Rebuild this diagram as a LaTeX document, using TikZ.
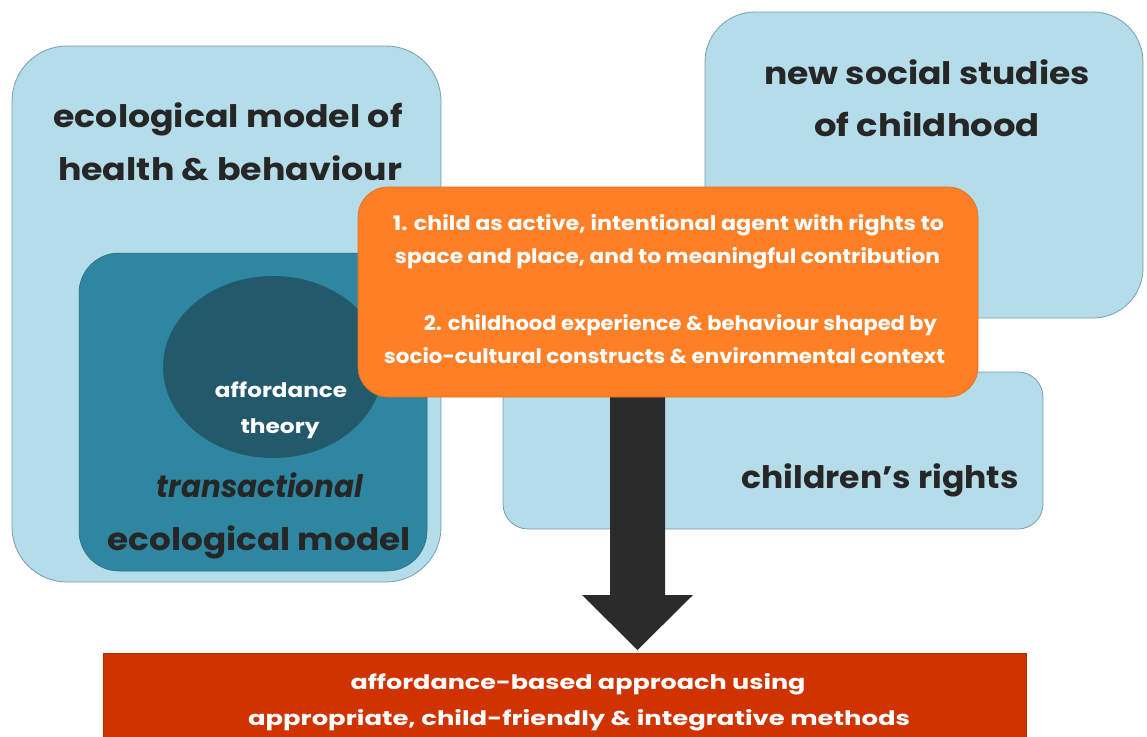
\documentclass[tikz,border=0pt]{standalone}
\usepackage{fontspec}
\setmainfont{Poppins}
\usepackage{graphicx}
\definecolor{lblue}{HTML}{B4DCE9}
\definecolor{boxline}{HTML}{7A9DB0}
\definecolor{tealbox}{HTML}{2F86A0}
\definecolor{dteal}{HTML}{225A6C}
\definecolor{orangebox}{HTML}{FF7F27}
\definecolor{orangeline}{HTML}{E0701E}
\definecolor{redbox}{HTML}{D03200}
\definecolor{darktext}{HTML}{262626}
\definecolor{arrowc}{HTML}{2B2B2B}
\newcommand\fitw[2]{\resizebox{#1pt}{\height}{#2}}
\begin{document}
\begin{tikzpicture}[x=1pt,y=-1pt,
  lbox/.style={draw=boxline, fill=lblue, line width=0.8pt, inner sep=0pt},
  ttl/.style={anchor=base, text=darktext, inner sep=0pt, font=\fontsize{31}{31}\selectfont\bfseries},
  wsmall/.style={anchor=base, text=white, inner sep=0pt, font=\fontsize{20}{20}\selectfont\bfseries}
]
\clip (0,0) rectangle (1147,736);
\useasboundingbox (0,0) rectangle (1147,736);
% left big box
\node[lbox, rounded corners=55pt, minimum width=429pt, minimum height=536pt] (eco) at (226.5,314) {};
\node[ttl] (ecot1) at (228,127) {\fitw{349}{ecological model of}};
\node[ttl] (ecot2) at (230,180) {\fitw{344}{health \& behaviour}};
% teal box
\node[draw=tealbox!80!black, line width=0.5pt, fill=tealbox, rounded corners=40pt, inner sep=0pt, minimum width=348pt, minimum height=318pt] (trans) at (253,412) {};
% ellipse
\fill[dteal] (273,367) ellipse [x radius=110, y radius=91];
\node[wsmall] (aff1) at (281,397) {\fitw{132}{affordance}};
\node[wsmall] (aff2) at (280,433) {\fitw{79}{theory}};
\node[ttl] (tr1) at (260,497) {\fitw{206}{\itshape transactional}};
\node[ttl] (tr2) at (259,550) {\fitw{303}{ecological model}};
% top right box
\node[lbox, rounded corners=50pt, minimum width=438pt, minimum height=306pt] (nss) at (924,165) {};
\node[ttl] (nss1) at (927,84) {\fitw{326}{new social studies}};
\node[ttl] (nss2) at (927,136) {\fitw{226}{of childhood}};
% children's rights box
\node[lbox, rounded corners=25pt, minimum width=540pt, minimum height=157pt] (cr) at (773,450.5) {};
\node[ttl] (crt) at (880,488) {\fitw{277}{children’s rights}};
% red box
\node[fill=redbox, draw=redbox!85!black, line width=0.5pt, inner sep=0pt, minimum width=923pt, minimum height=100pt, anchor=north west] (res) at (103,653) {};
\node[wsmall] (res1) at (578,689) {\fitw{455}{affordance-based approach using}};
\node[wsmall] (res2) at (579,725) {\fitw{662}{appropriate, child-friendly \& integrative methods}};
% arrow
\coordinate (atop) at (637.5,392);
\coordinate (atip) at (637.5,650);
\fill[arrowc] ([xshift=-27.5pt]atop) -- ([xshift=27.5pt]atop) -- ([xshift=27.5pt,yshift=55pt]atip) -- ([xshift=55.5pt,yshift=55pt]atip) -- (atip) -- ([xshift=-55.5pt,yshift=55pt]atip) -- ([xshift=-27.5pt,yshift=55pt]atip) -- cycle;
% orange box
\node[fill=orangebox, draw=orangeline, line width=0.6pt, rounded corners=30pt, inner sep=0pt, minimum width=620pt, minimum height=210pt] (core) at (668,292) {};
\node[wsmall] (c1) at (668.5,230) {\fitw{551}{1. child as active, intentional agent with rights to}};
\node[wsmall] (c2) at (667.5,263) {\fitw{545}{space and place, and to meaningful contribution}};
\node[wsmall] (c3) at (680.5,330) {\fitw{513}{2. childhood experience \& behaviour shaped by}};
\node[wsmall] (c4) at (664.5,363) {\fitw{561}{socio-cultural constructs \& environmental context}};
\end{tikzpicture}
\end{document}
